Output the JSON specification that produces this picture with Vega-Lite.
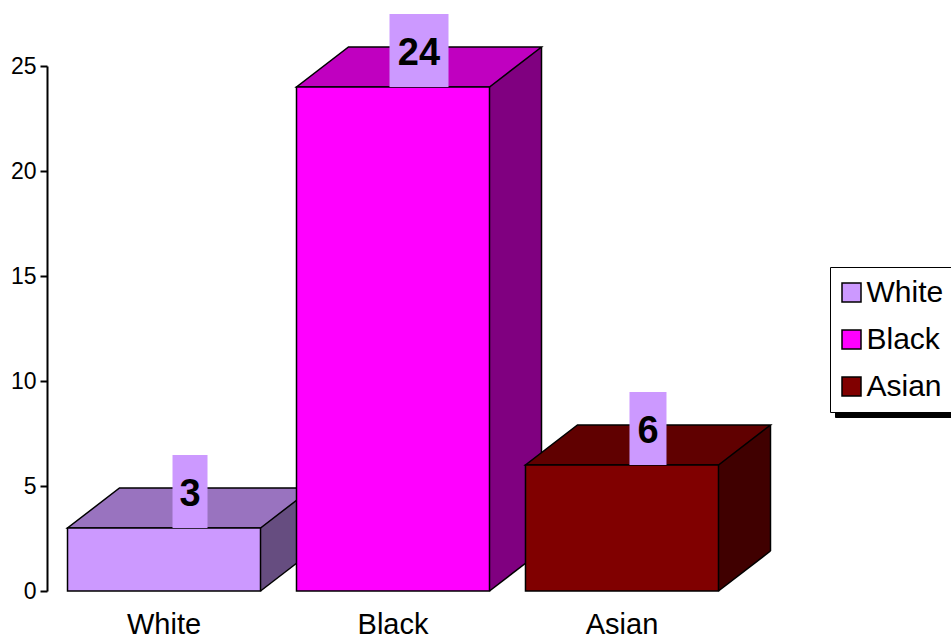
{
  "$schema": "https://vega.github.io/schema/vega-lite/v6.json",
  "autosize": "none",
  "width": 692,
  "height": 525,
  "padding": {"left": 47, "top": 66, "right": 212, "bottom": 48},
  "background": "white",
  "config": {
    "view": {"stroke": null},
    "font": "Liberation Sans",
    "legend": {
      "orient": "none",
      "title": null,
      "symbolType": "square",
      "symbolSize": 361,
      "labelFont": "Liberation Sans",
      "labelFontSize": 30,
      "labelColor": "black",
      "labelOffset": 0,
      "labelLimit": 300,
      "padding": 10.5,
      "rowPadding": 17,
      "strokeColor": "black",
      "fillColor": "white"
    }
  },
  "data": {
    "values": [
      {"cat": "White", "value": 3},
      {"cat": "Black", "value": 24},
      {"cat": "Asian", "value": 6}
    ]
  },
  "encoding": {
    "x": {
      "field": "cat", "type": "nominal", "sort": null, "title": null,
      "scale": {"domain": ["White", "Black", "Asian"], "paddingInner": 0, "paddingOuter": 0.011},
      "axis": {"domain": false, "ticks": false, "labelAngle": 0, "labelFont": "Liberation Sans", "labelFontSize": 29, "labelColor": "black", "labelPadding": 19}
    },
    "y": {
      "field": "value", "type": "quantitative", "title": null,
      "scale": {"domain": [0, 25], "nice": false},
      "axis": {"values": [0, 5, 10, 15, 20, 25], "grid": false, "domainColor": "black", "domainWidth": 2, "tickColor": "black", "tickWidth": 2, "tickSize": 7, "labelPadding": 4, "labelFont": "Liberation Sans", "labelFontSize": 23, "labelColor": "black"}
    }
  },
  "layer": [
    {
      "mark": {"type": "bar", "width": 52, "xOffset": 122.5, "yOffset": -40, "y2Offset": -40},
      "encoding": {
        "y2": {"datum": 0},
        "fill": {"field": "cat", "type": "nominal", "legend": null, "scale": {"domain": ["White", "Black", "Asian"], "range": ["#664D80", "#800080", "#400000"]}}
      }
    },
    {
      "mark": {"type": "point", "shape": "M96.5,0L148.5,-40L148.5,-41L96.5,-41Z", "size": 4, "filled": true, "opacity": 1, "strokeWidth": 0},
      "encoding": {
        "y": {"datum": 0},
        "fill": {"field": "cat", "type": "nominal", "legend": null, "scale": {"domain": ["White", "Black", "Asian"], "range": ["#664D80", "#800080", "#400000"]}}
      }
    },
    {
      "mark": {"type": "rule", "xOffset": 148.5, "yOffset": -40, "y2Offset": -40, "color": "black", "strokeWidth": 1.5},
      "encoding": {"y2": {"datum": 0}}
    },
    {
      "mark": {"type": "point", "shape": "M96.5,0L148.5,-40", "size": 4, "filled": false, "opacity": 1, "stroke": "black", "strokeWidth": 1.5},
      "encoding": {"y": {"datum": 0}}
    },
    {
      "mark": {"type": "point", "shape": "M-96.5,0L96.5,0L148.5,-40L-44.5,-40Z", "size": 4, "filled": true, "opacity": 1, "stroke": "black", "strokeWidth": 1.5},
      "encoding": {
        "fill": {"field": "cat", "type": "nominal", "legend": null, "scale": {"domain": ["White", "Black", "Asian"], "range": ["#9973BF", "#C000C0", "#600000"]}}
      }
    },
    {
      "mark": {"type": "bar", "width": 193, "stroke": "black", "strokeWidth": 1.5},
      "encoding": {
        "y2": {"datum": 0},
        "fill": {
          "field": "cat", "type": "nominal",
          "scale": {"domain": ["White", "Black", "Asian"], "range": ["#CC99FF", "#FF00FF", "#800000"]},
          "legend": {"legendX": 783, "legendY": 201, "zindex": 2, "symbolStrokeColor": "black", "symbolStrokeWidth": 1.5, "symbolOffset": -4}
        }
      }
    },
    {
      "mark": {"type": "bar", "xOffset": 26, "y2Offset": -73, "color": "#CC99FF"},
      "encoding": {
        "y2": {"field": "value"},
        "size": {"field": "cat", "type": "nominal", "legend": null, "scale": {"type": "ordinal", "domain": ["White", "Black", "Asian"], "range": [35, 59, 37]}}
      }
    },
    {
      "mark": {"type": "text", "xOffset": 26, "yOffset": -22, "baseline": "alphabetic", "align": "center", "font": "Liberation Sans", "fontWeight": "bold", "fontSize": 38, "color": "black"},
      "encoding": {"text": {"field": "value", "type": "quantitative"}}
    },
    {
      "mark": {"type": "point", "opacity": 0, "size": 1},
      "encoding": {
        "shape": {
          "field": "cat", "type": "nominal",
          "legend": {"legendX": 788, "legendY": 206, "zindex": 1, "fillColor": "black", "strokeColor": "black", "symbolOpacity": 0, "labelExpr": "''", "labelOffset": 90}
        }
      }
    }
  ],
  "resolve": {"scale": {"fill": "independent"}}
}
